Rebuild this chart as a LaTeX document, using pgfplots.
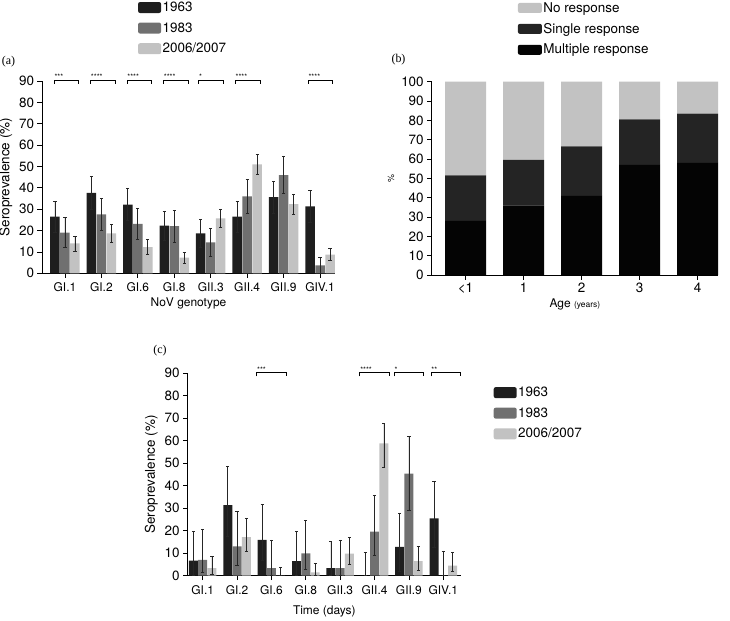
\documentclass[border=0pt]{standalone}
\usepackage{fontspec}
\setmainfont{TeX Gyre Heros}
\newfontfamily\seriffont{Liberation Serif}
\usepackage{pgfplots}
\pgfplotsset{compat=1.18}
\definecolor{cA}{RGB}{30,30,30}
\definecolor{cB}{RGB}{112,112,112}
\definecolor{cC}{RGB}{194,194,194}
\definecolor{bNo}{RGB}{194,194,194}
\definecolor{bSingle}{RGB}{36,36,36}
\definecolor{bMulti}{RGB}{4,4,4}
\newcommand{\ytfont}{\fontsize{13.5}{15}\selectfont}
\newcommand{\xtfont}{\fontsize{12}{14}\selectfont}
\newcommand{\legfont}{\fontsize{13.5}{15}\selectfont}
\pgfplotsset{
  panel/.style={
    scale only axis, anchor=south west,
    axis x line*=bottom, axis y line*=left,
    axis line style={-, line width=0.8pt},
    tick align=outside, major tick length=4.5bp,
    tick style={black, line width=0.8pt},
    ymin=0, clip=false, enlargelimits=false,
    /pgf/number format/assume math mode=true,
    yticklabel style={font=\ytfont},
    xticklabel style={font=\xtfont},
    xlabel style={font=\xtfont},
    ylabel style={font=\fontsize{13.5}{15}\selectfont},
    legend cell align=left,
    legend style={draw=none, fill=none, font=\legfont, row sep=6.5bp,
      nodes={inner sep=1.5bp}},
  },
  sw/.style={legend image code/.code={\fill[##1,rounded corners=2bp] (0bp,-5.5bp) rectangle (23bp,5.5bp);}},
  errs/.style={error bars/y dir=both, error bars/y explicit,
    error bars/error bar style={line width=0.7pt, black!85},
    error bars/error mark options={rotate=90, mark size=1.6bp, line width=0.7pt, black!85}},
}
\newcommand{\sigbr}[4]{% x, halfleft, halfright, stars
  \draw[line width=0.8pt] (axis cs:#1-#2,88.6) -- (axis cs:#1-#2,90.3) -- (axis cs:#1+#3,90.3) -- (axis cs:#1+#3,88.6);
  \node[anchor=south west, inner sep=0.3bp, font=\fontsize{7.5}{7.5}\selectfont] at (axis cs:#1-#2,90.3) {#4};}
\begin{document}
\begin{tikzpicture}
\path[use as bounding box] (0,0) rectangle (730bp,-621bp);
% ---------------- (a)
\begin{axis}[panel, errs, at={(42bp,-273.3bp)}, width=293bp, height=192.3bp,
  xmin=-0.63, xmax=7.41, ymax=90, ytick={0,10,...,90},
  xtick={0,...,7}, xticklabels={GI.1,GI.2,GI.6,GI.8,GII.3,GII.4,GII.9,GIV.1},
  xticklabel shift=1bp,
  xlabel style={at={(axis description cs:0.5,0)}, anchor=north, yshift=-21bp},
  ylabel={Seroprevalence (\%)}, xlabel={NoV genotype},
  ybar, bar width=9.5bp, sw,
  legend style={at={(axis description cs:0.317,1.43)}, anchor=north west}]
\addplot[fill=cA, draw=none, bar shift=-10bp] coordinates {
 (0,26.5) +- (0,7.3) (1,37.7) +- (0,7.8) (2,32.1) +- (0,7.5) (3,22.3) +- (0,6.9)
 (4,18.7) +- (0,6.6) (5,26.5) +- (0,7.3) (6,35.6) +- (0,7.6) (7,31.3) +- (0,7.5)};
\addplot[fill=cB, draw=none, bar shift=0bp] coordinates {
 (0,19.0) +- (0,7.0) (1,27.6) +- (0,7.5) (2,23.1) +- (0,7.1) (3,22.1) +- (0,7.4)
 (4,14.5) +- (0,6.4) (5,36.0) +- (0,8.1) (6,46.0) +- (0,8.6) (7,3.7) += (0,3.9) -= (0,3.7)};
\addplot[fill=cC, draw=none, bar shift=10bp] coordinates {
 (0,14.0) +- (0,3.5) (1,18.7) +- (0,4.0) (2,12.3) +- (0,3.4) (3,7.3) +- (0,2.6)
 (4,25.7) +- (0,4.4) (5,51.0) +- (0,4.5) (6,32.4) +- (0,4.6) (7,8.7) +- (0,2.8)};
\legend{1963,1983,2006/2007}
\sigbr{0}{0.30}{0.38}{***}
\sigbr{1}{0.30}{0.38}{****}
\sigbr{2}{0.30}{0.38}{****}
\sigbr{3}{0.30}{0.38}{****}
\sigbr{4}{0.33}{0.35}{*}
\sigbr{5}{0.33}{0.35}{****}
\sigbr{7}{0.33}{0.35}{****}
\end{axis}
% ---------------- (b)
\begin{axis}[panel, at={(431.7bp,-275bp)}, width=286.3bp, height=193.3bp,
  xmin=-0.583, xmax=4.353, ymax=100, ytick={0,10,...,100},
  xtick={0,...,4}, xticklabels={<1,1,2,3,4}, xticklabel style={font=\ytfont},
  xlabel style={at={(axis description cs:0.5,0)}, anchor=north, yshift=-20bp},
  ylabel={\fontsize{9}{10}\selectfont\%}, xlabel={Age {\fontsize{8.5}{9}\selectfont(years)}},
  ybar stacked, bar width=41bp, reverse legend,
  legend image code/.code={\fill[#1,rounded corners=2bp] (0bp,-5bp) rectangle (24bp,5bp);},
  legend style={at={(axis description cs:0.29,1.43)}, anchor=north west,
    nodes={inner sep=1.5bp, xshift=5bp}}]
\addplot[fill=bMulti, draw=none] coordinates {(0,28) (1,36) (2,41) (3,57) (4,58)};
\addplot[fill=bSingle, draw=none] coordinates {(0,23.5) (1,23.5) (2,25.5) (3,23.5) (4,25.5)};
\addplot[fill=bNo, draw=none] coordinates {(0,48.5) (1,40.5) (2,33.5) (3,19.5) (4,16.5)};
\legend{Multiple response,Single response,No response}
\end{axis}
% ---------------- (c)
\begin{axis}[panel, errs, at={(187.7bp,-575.7bp)}, width=273.3bp, height=202.4bp,
  xmin=-0.436, xmax=7.515, ymax=90, ytick={0,10,...,90},
  xtick={0,...,7}, xticklabels={GI.1,GI.2,GI.6,GI.8,GII.3,GII.4,GII.9,GIV.1},
  xticklabel shift=2bp,
  xlabel style={at={(axis description cs:0.5,0)}, anchor=north, yshift=-27bp},
  ylabel={Seroprevalence (\%)}, xlabel={Time (days)},
  ybar, bar width=9bp, sw,
  legend style={at={(axis description cs:1.108,0.95)}, anchor=north west}]
\addplot[fill=cA, draw=none, bar shift=-9.3bp] coordinates {
 (0,6.7) += (0,13.0) -= (0,6.7) (1,31.4) += (0,17.1) -= (0,14.1)
 (2,15.9) += (0,15.7) -= (0,9.2) (3,6.5) += (0,13.3) -= (0,6.5)
 (4,3.4) += (0,12.0) -= (0,3.4) (5,0) += (0,10.5) -= (0,0)
 (6,12.8) += (0,15.1) -= (0,10.8) (7,25.5) += (0,16.5) -= (0,12.9)};
\addplot[fill=cB, draw=none, bar shift=0bp] coordinates {
 (0,7.0) += (0,13.4) -= (0,5.5) (1,13.0) += (0,15.6) -= (0,8.3)
 (2,3.4) += (0,12.5) -= (0,3.4) (3,9.9) += (0,14.7) -= (0,6.9)
 (4,3.4) += (0,12.5) -= (0,3.4) (5,19.6) += (0,16.3) -= (0,10.7)
 (6,45.4) += (0,16.6) -= (0,16.4) (7,0) += (0,11.0) -= (0,0)};
\addplot[fill=cC, draw=none, bar shift=9.3bp] coordinates {
 (0,3.4) += (0,5.2) -= (0,2.7) (1,17.2) += (0,8.4) -= (0,6.5)
 (2,0) += (0,3.7) -= (0,0) (3,1.5) += (0,4.1) -= (0,1.5)
 (4,9.8) += (0,7.2) -= (0,4.9) (5,58.8) += (0,8.8) -= (0,10.8)
 (6,6.5) += (0,6.5) -= (0,4.1) (7,4.5) += (0,6.0) -= (0,2.5)};
\legend{1963,1983,2006/2007}
\sigbr{2}{0.43}{0.43}{***}
\sigbr{5}{0.43}{0.43}{****}
\sigbr{6}{0.43}{0.43}{*}
\sigbr{7}{0.36}{0.50}{**}
\end{axis}
\node[font=\seriffont\fontsize{12}{13}\selectfont] at (8.5bp,-62bp) {(a)};
\node[font=\seriffont\fontsize{12}{13}\selectfont] at (398.5bp,-60bp) {(b)};
\node[font=\seriffont\fontsize{12}{13}\selectfont] at (160bp,-351bp) {(c)};
\end{tikzpicture}
\end{document}
